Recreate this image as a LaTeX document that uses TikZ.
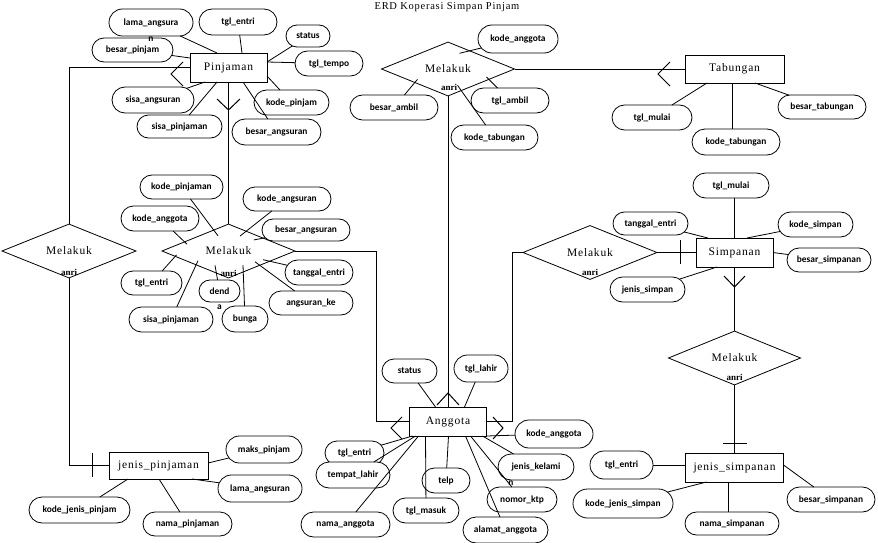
\documentclass[tikz,border=0pt]{standalone}
\usepackage{fontspec}
\usetikzlibrary{shapes.geometric,shapes.misc}
\newfontfamily\entfont[LetterSpace=7]{Liberation Serif}
\newfontfamily\notefont{Liberation Serif}
\newfontfamily\attfont{Carlito}
\begin{document}
\begin{tikzpicture}[x=1pt,y=-1pt,
  ent/.style={draw, fill=white, rectangle, inner sep=0pt, outer sep=0pt,
    font=\entfont\fontsize{11.5}{13}\selectfont},
  rel/.style={draw, fill=white, diamond, inner sep=0pt, outer sep=0pt,
    font=\entfont\fontsize{11.5}{13}\selectfont},
  attr/.style={draw, fill=white, rounded rectangle, inner sep=0pt, outer sep=0pt,
    font=\attfont\bfseries\fontsize{9.4}{10}\selectfont},
  sz/.style 2 args={minimum width=#1pt, minimum height=#2pt},
  note/.style={font=\notefont\bfseries\fontsize{9}{10}\selectfont, inner sep=0pt, anchor=base},
  wrap/.style={font=\attfont\bfseries\fontsize{9.4}{10}\selectfont, inner sep=0pt},
  link/.style={line width=0.8pt},
  card/.style={line width=1pt},
  every path/.append style={line width=0.8pt}]

\useasboundingbox (0,0) rectangle (878,543);
\fill[white] (0,0) rectangle (878,543);

% title
\node[anchor=base, font=\entfont\fontsize{10.5}{12}\selectfont, inner sep=0pt] (title) at (447,10) {ERD Koperasi Simpan Pinjam};

% ---------- entities ----------
\node[ent, sz={77}{29}] (pinj) at (228.5,67.5) {Pinjaman};
\node[ent, sz={99}{28}] (tab)  at (734.5,69) {Tabungan};
\node[ent, sz={77}{29}] (simp) at (734.5,252.5) {Simpanan};
\node[ent, sz={77}{29}] (ang)  at (448,421.5) {Anggota};
\node[ent, sz={99}{27}] (jp)   at (158.5,465.5) {jenis\_pinjaman};
\node[ent, sz={98}{29}] (js)   at (734.5,467.5) {jenis\_simpanan};

% ---------- relationships ----------
\node[rel, sz={134}{38}] (dPinj) at (69,251) {Melakuk};
\node[rel, sz={133}{36}] (dMid) at (228.5,251) {Melakuk};
\node[rel, sz={133}{38}] (dTop) at (448,69) {Melakuk};
\node[rel, sz={134}{40}] (dSimp) at (590,252.5) {Melakuk};
\node[rel, sz={132}{38}] (dLow) at (734.5,358) {Melakuk};

% ---------- relationship lines ----------
\coordinate (bendL) at (376,0);
\coordinate (bendR) at (512,0);
\draw[link] (pinj.west) -| (dPinj.north);
\draw[link] (dPinj.south) |- (jp.west);
\draw[link] (pinj.south) -- (dMid.north);
\draw[link] (dMid.east) -| (bendL |- ang.west) -- (ang.west);
\draw[link] (dTop.south) -- (ang.north);
\draw[link] (dTop.east) -- (tab.west);
\draw[link] (dSimp.west) -| (bendR |- ang.east) -- (ang.east);
\draw[link] (simp.west) -- (dSimp.east);
\draw[link] (simp.south) -- (dLow.north);
\draw[link] (dLow.south) -- (js.north);

% notes just under the relationship diamonds
\node[note] (nPinj) at (69,275) {anri};
\node[note] (nMid)  at (228.5,276) {anri};
\node[note] (nTop)  at (449,91) {anri};
\node[note] (nSimp) at (590,275.5) {anri};
\node[note] (nLow)  at (734.5,380) {anri};

% cardinality marks
\draw[card] (183,62) -- (171,74) -- (183,86);
\draw[card] (217,99) -- (228.5,110) -- (240,99);
\draw[card] (402,417) -- (391,428) -- (402,439);
\draw[card] (437,405) -- (448,393) -- (459,405);
\draw[card] (493,417) -- (503,428) -- (493,439);
\draw[card] (670,62) -- (658,74) -- (670,86);
\draw[card] (724,276) -- (734.5,287) -- (745,276);
\draw[card] (92,453) -- (92,477);
\draw[card] (680,240) -- (680,264);
\draw[card] (723,443) -- (747,443);

% ---------- attributes of Pinjaman ----------
\node[attr, sz={81}{24}] (p3) at (132.5,50) {besar\_pinjam};
\node[attr, sz={84}{27}, label={[wrap]below:n}] (p1) at (151,22.5) {lama\_angsura};
\node[attr, sz={78}{26}] (p2) at (238,22) {tgl\_entri};
\node[attr, sz={44}{22}] (p4) at (308,36) {status};
\node[attr, sz={68}{25}] (p5) at (329,63.5) {tgl\_tempo};
\node[attr, sz={82}{26}] (p6) at (153,100) {sisa\_angsuran};
\node[attr, sz={75}{25}] (p7) at (291.5,102.5) {kode\_pinjam};
\node[attr, sz={85}{23}] (p8) at (179.5,126.5) {sisa\_pinjaman};
\node[attr, sz={89}{26}] (p9) at (276.5,132) {besar\_angsuran};
\draw (p1) -- ([shift={(-11.5,-14.5)}]pinj.center);
\draw (p2) -- ([shift={(13.5,-14.5)}]pinj.center);
\draw (p3) -- ([shift={(-38.5,-9.5)}]pinj.center);
\draw (p4) -- ([shift={(38.5,-5.5)}]pinj.center);
\draw (p5) -- ([shift={(38.5,-5.5)}]pinj.center);
\draw (p6) -- ([shift={(-23.5,14.5)}]pinj.center);
\draw (p7) -- ([shift={(38.5,8.5)}]pinj.center);
\draw (p8) -- ([shift={(-11.5,14.5)}]pinj.center);
\draw (p9) -- ([shift={(14.5,14.5)}]pinj.center);

% ---------- attributes of the Pinjaman-Anggota relationship ----------
\node[attr, sz={83}{24}] (m1) at (181.5,187) {kode\_pinjaman};
\node[attr, sz={88}{24}] (m2) at (287,199) {kode\_angsuran};
\node[attr, sz={78}{25}] (m3) at (160,218.5) {kode\_anggota};
\node[attr, sz={88}{22}] (m4) at (306,230) {besar\_angsuran};
\node[attr, sz={61}{24}] (m5) at (151.5,283) {tgl\_entri};
\node[attr, sz={68}{25}] (m6) at (319,272.5) {tanggal\_entri};
\node[attr, sz={41}{22}, label={[wrap,yshift=-2pt]below:a}] (m7) at (219.5,291) {dend};
\node[attr, sz={84}{24}] (m8) at (311,303) {angsuran\_ke};
\node[attr, sz={84}{25}] (m9) at (171,319.5) {sisa\_pinjaman};
\node[attr, sz={46}{26}] (m10) at (245,319) {bunga};
\draw (m1) -- ([shift={(-10.5,-15.2)}]dMid.center);
\draw (m2) -- ([shift={(11.5,-14.9)}]dMid.center);
\draw (m3) -- ([shift={(-41.5,-6.8)}]dMid.center);
\draw (m4) -- ([shift={(25.5,-11.1)}]dMid.center);
\draw (m5) -- ([shift={(-52,3.9)}]dMid.center);
\draw (m6) -- ([shift={(34.5,8.7)}]dMid.center);
\draw (m7) -- ([shift={(-13.5,14.3)}]dMid.center);
\draw (m8) -- ([shift={(26.5,10.8)}]dMid.center);
\draw (m9) -- ([shift={(-30.5,9.7)}]dMid.center);
\draw (m10) -- ([shift={(14.5,14.1)}]dMid.center);

% ---------- attributes of the Tabungan relationship ----------
\node[attr, sz={80}{28}] (t1) at (518,39) {kode\_anggota};
\node[attr, sz={88}{25}] (t2) at (394,107.5) {besar\_ambil};
\node[attr, sz={78}{25}] (t3) at (510,100.5) {tgl\_ambil};
\node[attr, sz={87}{25}] (t4) at (494.5,137.5) {kode\_tabungan};
\draw (t1) -- ([shift={(11.5,-15.7)}]dTop.center);
\draw (t2) -- ([shift={(-30.5,10.3)}]dTop.center);
\draw (t3) -- ([shift={(38.5,8)}]dTop.center);
\draw (t4) -- ([shift={(9.5,16.3)}]dTop.center);

% ---------- attributes of Tabungan ----------
\node[attr, sz={80}{25}] (b1) at (652,117.5) {tgl\_mulai};
\node[attr, sz={88}{26}] (b2) at (736,142) {kode\_tabungan};
\node[attr, sz={88}{24}] (b3) at (822,107) {besar\_tabungan};
\draw (b1) -- ([shift={(-27.5,14)}]tab.center);
\draw ([shift={(-2.5,14)}]tab.center) -- ([xshift=-4pt]b2.north);
\draw (b3) -- ([shift={(20.5,14)}]tab.center);

% ---------- attributes of Simpanan ----------
\node[attr, sz={76}{25}] (s1) at (731,185.5) {tgl\_mulai};
\node[attr, sz={75}{23}] (s2) at (650.5,223.5) {tanggal\_entri};
\node[attr, sz={75}{25}] (s3) at (815.5,224.5) {kode\_simpan};
\node[attr, sz={84}{24}] (s4) at (829,260) {besar\_simpanan};
\node[attr, sz={75}{25}] (s5) at (647.5,289.5) {jenis\_simpan};
\draw (simp.north) -- (simp.north |- s1.south);
\draw (s2) -- ([shift={(-26.5,-14.5)}]simp.center);
\draw (s3) -- ([shift={(12.5,-14.5)}]simp.center);
\draw (s4) -- (simp.east);
\draw (s5) -- ([shift={(-17.5,14.5)}]simp.center);

% ---------- attributes of jenis_simpanan ----------
\node[attr, sz={63}{28}] (j1) at (621.5,465) {tgl\_entri};
\node[attr, sz={100}{29}] (j2) at (623,503.5) {kode\_jenis\_simpan};
\node[attr, sz={94}{23}] (j3) at (732,523.5) {nama\_simpanan};
\node[attr, sz={88}{25}] (j4) at (831,499.5) {besar\_simpanan};
\coordinate (jsFoot) at ([shift={(-6.5,14.5)}]js.center);
\draw (j1.east) -- (js.west |- j1.east);
\draw (j2) -- ([shift={(-28,14.5)}]js.center);
\draw (jsFoot) -- (jsFoot |- j3.north);
\draw (j4) -- ([shift={(49,-2.5)}]js.center);

% ---------- attributes of jenis_pinjaman ----------
\node[attr, sz={76}{27}] (q1) at (264,449.5) {maks\_pinjam};
\node[attr, sz={84}{27}] (q2) at (260,488.5) {lama\_angsuran};
\node[attr, sz={101}{26}] (q3) at (79.5,510) {kode\_jenis\_pinjam};
\node[attr, sz={89}{24}] (q4) at (187.5,524) {nama\_pinjaman};
\draw (q1) -- ([shift={(49.5,-2.5)}]jp.center);
\draw (q2) -- ([shift={(33.5,13.5)}]jp.center);
\draw (q3) -- ([shift={(-30.5,13.5)}]jp.center);
\draw (q4) -- ([shift={(0.5,13.5)}]jp.center);

% ---------- attributes of Anggota ----------
\node[attr, sz={55}{24}] (a1) at (409.5,371) {status};
\node[attr, sz={54}{27}] (a2) at (481,368.5) {tgl\_lahir};
\node[attr, sz={78}{28}] (a3) at (554,434) {kode\_anggota};
\node[attr, sz={59}{24}] (a4) at (354.5,453) {tgl\_entri};
\node[attr, sz={76}{26}, label={[wrap,xshift=-25pt]below:n}] (a5) at (536,467) {jenis\_kelami};
\node[attr, sz={74}{26}] (a6) at (353,475) {tempat\_lahir};
\node[attr, sz={48}{25}] (a7) at (446,480.5) {telp};
\node[attr, sz={70}{25}] (a8) at (522,499.5) {nomor\_ktp};
\node[attr, sz={66}{25}] (a9) at (426,510.5) {tgl\_masuk};
\node[attr, sz={89}{25}] (a10) at (345.5,524.5) {nama\_anggota};
\node[attr, sz={85}{26}] (a11) at (505.5,530) {alamat\_anggota};
\draw (a1) -- ([shift={(-12.5,-14.5)}]ang.center);
\draw (a2) -- ([shift={(16.5,-14.5)}]ang.center);
\draw (a3) -- ([shift={(38.5,14.5)}]ang.center);
\draw (a4) -- ([shift={(-35.5,14.5)}]ang.center);
\draw (a5) -- ([shift={(34.5,14.5)}]ang.center);
\draw (a6) -- ([shift={(-32.5,14.5)}]ang.center);
\draw (a7) -- ([shift={(0.5,14.5)}]ang.center);
\draw (a8) -- ([shift={(22.5,14.5)}]ang.center);
\draw (a9) -- ([shift={(-22.5,14.5)}]ang.center);
\draw (a10) -- ([shift={(-29.5,14.5)}]ang.center);
\draw (a11) -- ([shift={(17.5,14.5)}]ang.center);
\end{tikzpicture}
\end{document}
